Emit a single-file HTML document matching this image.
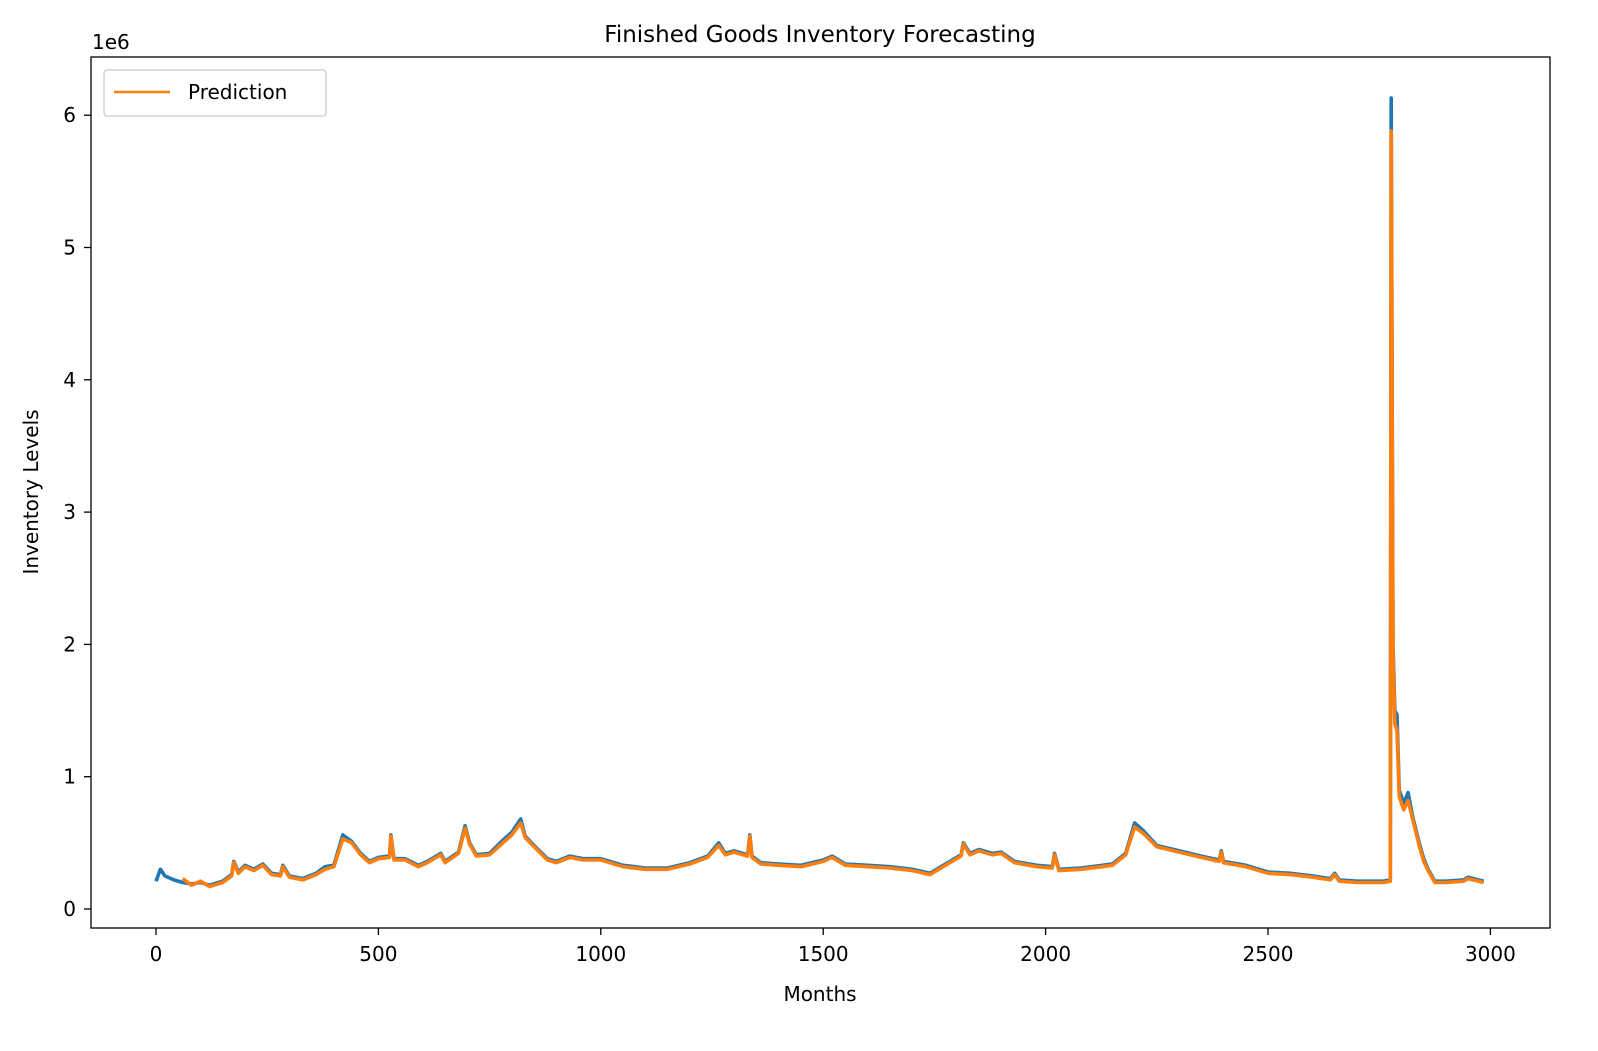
<!DOCTYPE html>
<html><head><meta charset="utf-8"><style>
body{margin:0;background:#fff;font-family:"Liberation Sans","DejaVu Sans",sans-serif}
svg text{font-family:"DejaVu Sans","Liberation Sans",sans-serif;fill:#000}
</style></head><body>
<svg id="chart" width="1598" height="1046" xmlns="http://www.w3.org/2000/svg">
<rect width="1598" height="1046" fill="#fff"/>
<text x="820" y="42" font-size="23" text-anchor="middle">Finished Goods Inventory Forecasting</text>
<text x="92" y="49" font-size="20">1e6</text>
<g id="series"></g>
<rect x="91" y="57" width="1459" height="871" fill="none" stroke="#000" stroke-width="1.3"/>
<g id="axes"></g>
<text x="820" y="1001" font-size="20" text-anchor="middle">Months</text>
<text transform="translate(38,492) rotate(-90)" font-size="20" text-anchor="middle">Inventory Levels</text>
<g>
<rect x="104" y="70" width="222" height="46" fill="#fff" stroke="#ccc" stroke-width="1.3" rx="3"/>
<line x1="114" y1="92" x2="170" y2="92" stroke="#ff7f0e" stroke-width="2.6"/>
<text x="188" y="99" font-size="20">Prediction</text>
</g>
</svg>
<script>
const actualMonths=[0,10,20,40,60,80,100,120,150,170,175,185,200,220,240,260,280,285,300,330,360,380,400,420,440,460,480,500,525,528,535,560,590,610,640,650,680,695,705,720,750,780,800,820,830,850,880,900,930,960,1000,1020,1050,1100,1150,1200,1240,1265,1280,1300,1330,1335,1340,1360,1400,1450,1500,1520,1550,1600,1650,1700,1740,1780,1810,1815,1830,1850,1880,1900,1930,1980,2015,2020,2030,2080,2150,2180,2200,2220,2250,2300,2350,2390,2395,2400,2450,2500,2550,2600,2640,2650,2660,2700,2760,2775,2777,2781,2785,2790,2795,2805,2815,2825,2840,2850,2860,2875,2900,2940,2950,2985];
const actualValues=[0.21,0.3,0.25,0.22,0.2,0.19,0.2,0.18,0.21,0.26,0.36,0.28,0.33,0.3,0.34,0.27,0.26,0.33,0.25,0.23,0.27,0.32,0.33,0.56,0.51,0.42,0.36,0.39,0.4,0.56,0.38,0.38,0.33,0.36,0.42,0.36,0.43,0.63,0.5,0.41,0.42,0.52,0.58,0.68,0.55,0.48,0.38,0.36,0.4,0.38,0.38,0.36,0.33,0.31,0.31,0.35,0.4,0.5,0.42,0.44,0.41,0.56,0.4,0.35,0.34,0.33,0.37,0.4,0.34,0.33,0.32,0.3,0.27,0.35,0.41,0.5,0.42,0.45,0.42,0.43,0.36,0.33,0.32,0.42,0.3,0.31,0.34,0.42,0.65,0.59,0.48,0.44,0.4,0.37,0.44,0.36,0.33,0.28,0.27,0.25,0.23,0.27,0.22,0.21,0.21,0.22,6.13,2.0,1.5,1.47,0.9,0.8,0.88,0.7,0.5,0.38,0.3,0.21,0.21,0.22,0.24,0.21];
const predMonths=[60,80,100,120,150,170,175,185,200,220,240,260,280,285,300,330,360,380,400,420,440,460,480,500,525,528,535,560,590,610,640,650,680,695,705,720,750,780,800,820,830,850,880,900,930,960,1000,1020,1050,1100,1150,1200,1240,1265,1280,1300,1330,1335,1340,1360,1400,1450,1500,1520,1550,1600,1650,1700,1740,1780,1810,1815,1830,1850,1880,1900,1930,1980,2015,2020,2030,2080,2150,2180,2200,2220,2250,2300,2350,2390,2395,2400,2450,2500,2550,2600,2640,2650,2660,2700,2760,2775,2777,2781,2785,2790,2795,2805,2815,2825,2840,2850,2860,2875,2900,2940,2950,2985];
const predValues=[0.23,0.18,0.21,0.17,0.2,0.25,0.35,0.27,0.32,0.29,0.33,0.26,0.25,0.32,0.24,0.22,0.26,0.3,0.32,0.53,0.5,0.41,0.35,0.38,0.39,0.55,0.37,0.37,0.32,0.35,0.41,0.35,0.42,0.61,0.49,0.4,0.41,0.5,0.56,0.65,0.54,0.47,0.37,0.35,0.39,0.37,0.37,0.35,0.32,0.3,0.3,0.34,0.39,0.48,0.41,0.43,0.4,0.55,0.39,0.34,0.33,0.32,0.36,0.39,0.33,0.32,0.31,0.29,0.26,0.34,0.4,0.49,0.41,0.44,0.41,0.42,0.35,0.32,0.31,0.41,0.29,0.3,0.33,0.41,0.62,0.57,0.47,0.43,0.39,0.36,0.43,0.35,0.32,0.27,0.26,0.24,0.22,0.26,0.21,0.2,0.2,0.21,5.88,1.9,1.4,1.35,0.85,0.75,0.82,0.68,0.48,0.36,0.29,0.2,0.2,0.21,0.23,0.2];
const xTicks=[0,500,1000,1500,2000,2500,3000];
const yTicks=[0,1,2,3,4,5,6];
const xS=v=>156+v*0.4448;
const yS=v=>909-v*132.3;
const NS="http://www.w3.org/2000/svg";
const series=document.getElementById('series');
function line(ms,vs,color,name){
  const p=document.createElementNS(NS,'polyline');
  p.setAttribute('points',ms.map((m,i)=>xS(m).toFixed(1)+','+yS(vs[i]).toFixed(1)).join(' '));
  p.setAttribute('fill','none');p.setAttribute('stroke',color);p.setAttribute('stroke-width','3.6');p.setAttribute('stroke-linejoin','round');
  
  
  series.appendChild(p);
}
line(actualMonths,actualValues,'#1f77b4','actual-line');
line(predMonths,predValues,'#ff7f0e','prediction-line');
const axes=document.getElementById('axes');
xTicks.forEach(t=>{
  const x=xS(t);
  const l=document.createElementNS(NS,'line');
  l.setAttribute('x1',x);l.setAttribute('x2',x);l.setAttribute('y1',928);l.setAttribute('y2',935);l.setAttribute('stroke','#000');l.setAttribute('stroke-width','1.3');
  
  
  axes.appendChild(l);
  const tx=document.createElementNS(NS,'text');
  tx.setAttribute('x',x);tx.setAttribute('y',961);tx.setAttribute('font-size','20');tx.setAttribute('text-anchor','middle');tx.textContent=t;
  
  
  axes.appendChild(tx);
});
yTicks.forEach(t=>{
  const y=yS(t);
  const l=document.createElementNS(NS,'line');
  l.setAttribute('x1',84);l.setAttribute('x2',91);l.setAttribute('y1',y);l.setAttribute('y2',y);l.setAttribute('stroke','#000');l.setAttribute('stroke-width','1.3');
  
  
  axes.appendChild(l);
  const tx=document.createElementNS(NS,'text');
  tx.setAttribute('x',76);tx.setAttribute('y',y+7);tx.setAttribute('font-size','20');tx.setAttribute('text-anchor','end');tx.textContent=t;
  
  
  axes.appendChild(tx);
});
</script>
</body></html>
